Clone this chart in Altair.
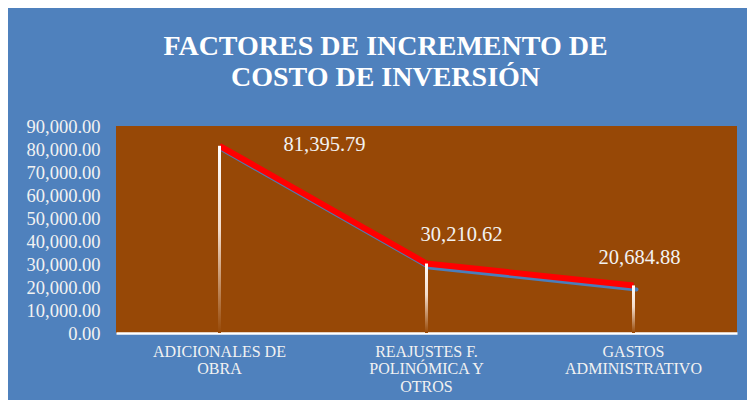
import altair as alt
import pandas as pd

categories = ["ADICIONALES DE OBRA", "REAJUSTES F. POLINÓMICA Y OTROS", "GASTOS ADMINISTRATIVO"]
label_lines = [["ADICIONALES DE", "OBRA"], ["REAJUSTES F.", "POLINÓMICA Y", "OTROS"], ["GASTOS", "ADMINISTRATIVO"]]
values = [81395.79, 30210.62, 20684.88]
y_ticks = [0, 10000, 20000, 30000, 40000, 50000, 60000, 70000, 80000, 90000]
title_lines = ["FACTORES DE INCREMENTO DE", "COSTO DE INVERSIÓN"]

df = pd.DataFrame({"cat": categories, "val": values})

BG = "#4F81BD"
PLOT = "#974806"
FONT = "Liberation Serif"
TXT = "#F2F2F2"

# label expression mapping category -> multi-line label
expr = "''"
for c, lines in reversed(list(zip(categories, label_lines))):
    arr = "[" + ",".join("'" + l + "'" for l in lines) + "]"
    expr = f"datum.label == '{c}' ? {arr} : ({expr})"

x = alt.X("cat:N", sort=categories,
          scale=alt.Scale(type="band", paddingInner=0, paddingOuter=0),
          axis=alt.Axis(title=None, labelAngle=0, labelExpr=expr, labelColor=TXT,
                        labelFont=FONT, labelFontSize=16, labelLineHeight=17.5,
                        labelPadding=10, domainColor="white", domainWidth=2.5,
                        ticks=False, grid=False, labelBaseline="top"))
y = alt.Y("val:Q", scale=alt.Scale(domain=[0, 90000], nice=False),
          axis=alt.Axis(title=None, values=y_ticks, format=",.2f", labelColor=TXT,
                        labelFont=FONT, labelFontSize=18.5, labelPadding=16,
                        domain=False, ticks=False, grid=False))

base = alt.Chart(df)

shadow = base.mark_line(color="#4A7EBB", strokeWidth=4, xOffset=3, yOffset=4,
                        strokeCap="round").encode(x=x, y=y)
line = base.mark_line(color="#FF0000", strokeWidth=6, strokeCap="butt").encode(x=x, y=y)

drops = base.mark_bar(size=3, color=alt.Gradient(
    gradient="linear", x1=0, x2=0, y1=0, y2=1,
    stops=[alt.GradientStop(offset=0, color="#FFFFFF"),
           alt.GradientStop(offset=0.45, color="#F3DCCB"),
           alt.GradientStop(offset=1, color=PLOT)])).encode(x=x, y=y)

offsets = [(105, -1), (35, -29), (6, -27)]
texts = []
for c, (dx, dy) in zip(categories, offsets):
    texts.append(base.transform_filter(alt.datum.cat == c).mark_text(
        font=FONT, fontSize=20.5, color=TXT, dx=dx, dy=dy, align="center",
        baseline="middle").encode(x=x, y=y, text=alt.Text("val:Q", format=",.2f")))

chart = alt.layer(shadow, line, drops, *texts).properties(
    width=621, height=207,
    background=BG,
    padding={"left": 108, "top": 118, "right": 10, "bottom": 67},
    autosize=alt.AutoSizeParams(type="none"),
    title=alt.TitleParams(text=title_lines, font=FONT, fontSize=28, fontWeight="bold",
                          color="white", anchor="middle", dx=-41, offset=25,
                          lineHeight=31),
).configure_view(fill=PLOT, stroke=None)

chart.save("out.html", embed_options={"renderer": "svg", "actions": False})
